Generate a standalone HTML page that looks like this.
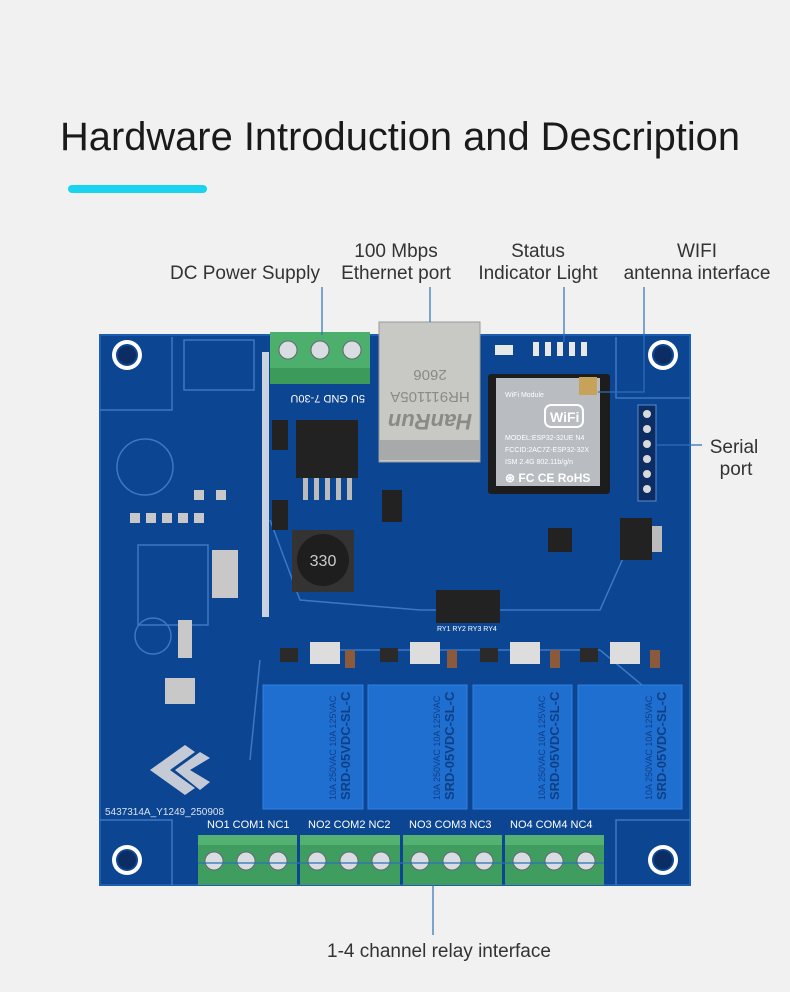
<!DOCTYPE html>
<html><head><meta charset="utf-8"><style>
html,body{margin:0;padding:0;background:#f1f1f1;}
svg{display:block}
</style></head><body>
<svg width="790" height="992" viewBox="0 0 790 992" xmlns="http://www.w3.org/2000/svg" font-family="Liberation Sans, sans-serif">
<rect width="790" height="992" fill="#f1f1f1"/>
<text x="60" y="150" font-size="40" fill="#1a1a1a" textLength="680" lengthAdjust="spacingAndGlyphs">Hardware Introduction and Description</text>
<rect x="68" y="185" width="139" height="8" rx="4" fill="#19d3ef"/>

<g font-size="19" fill="#333" text-anchor="middle">
<text x="245" y="279">DC Power Supply</text>
<text x="396" y="257">100 Mbps</text>
<text x="396" y="279">Ethernet port</text>
<text x="538" y="257">Status</text>
<text x="538" y="279">Indicator Light</text>
<text x="697" y="257">WIFI</text>
<text x="697" y="279">antenna interface</text>
<text x="734" y="453">Serial</text>
<text x="736" y="475">port</text>
<text x="439" y="957">1-4 channel relay interface</text>
</g>

<!-- board -->
<rect x="100" y="335" width="590" height="550" fill="#0c4592"/>
<rect x="100" y="335" width="590" height="550" fill="none" stroke="#1c5fb0" stroke-width="2"/>
<g fill="none" stroke="#3b78c6" stroke-width="1.5">
<path d="M100 410 H172 V337"/><path d="M616 337 V398 H690"/>
<path d="M100 820 H172 V885"/><path d="M616 885 V820 H690"/>
<rect x="184" y="340" width="70" height="50"/>
<circle cx="145" cy="467" r="28"/>
<rect x="138" y="545" width="70" height="80"/>
<circle cx="153" cy="636" r="18"/>
<path d="M270 520 L300 600 L420 610 L600 610 L640 520 M320 650 L600 650 M260 660 L250 760 M600 650 L660 700"/>
</g>
<g fill="#ffffff">
<circle cx="127" cy="355" r="15"/><circle cx="663" cy="355" r="15"/>
<circle cx="127" cy="860" r="15"/><circle cx="663" cy="860" r="15"/>
</g>
<g fill="#0c4592">
<circle cx="127" cy="355" r="11"/><circle cx="663" cy="355" r="11"/>
<circle cx="127" cy="860" r="11"/><circle cx="663" cy="860" r="11"/>
</g>
<g fill="#0c2d63">
<circle cx="127" cy="355" r="9"/><circle cx="663" cy="355" r="9"/>
<circle cx="127" cy="860" r="9"/><circle cx="663" cy="860" r="9"/>
</g>
<rect x="262" y="352" width="7" height="265" fill="#c9d3df"/>
<rect x="270" y="332" width="100" height="52" fill="#3c9a5a"/>
<rect x="270" y="332" width="100" height="36" fill="#4caf6c"/>
<g fill="#d7dde0" stroke="#667" stroke-width="1"><circle cx="288" cy="350" r="9"/><circle cx="320" cy="350" r="9"/><circle cx="352" cy="350" r="9"/></g>
<text x="271" y="403" font-size="11" fill="#fff" transform="rotate(180 318 399)">5U GND 7-30U</text>
<rect x="379" y="322" width="101" height="140" fill="#c8c8c4" stroke="#999"/>
<rect x="379" y="440" width="101" height="20" fill="#a7a9aa"/>
<g fill="#8a8a86" font-size="15" text-anchor="middle">
<text x="430" y="380" transform="rotate(180 430 375)">2606</text>
<text x="430" y="402" transform="rotate(180 430 397)">HR911105A</text>
<text x="430" y="430" font-size="22" font-style="italic" font-weight="bold" transform="rotate(180 430 422)">HanRun</text>
</g>
<g fill="#e8e8e8"><rect x="533" y="342" width="6" height="14"/><rect x="545" y="342" width="6" height="14"/><rect x="557" y="342" width="6" height="14"/><rect x="569" y="342" width="6" height="14"/><rect x="581" y="342" width="6" height="14"/><rect x="495" y="345" width="18" height="10"/></g>
<rect x="488" y="374" width="122" height="120" rx="3" fill="#1d1d1d"/>
<rect x="496" y="378" width="104" height="108" fill="#b9bcc0"/>
<g fill="#fff" font-size="7"><text x="505" y="397">WiFi Module</text><text x="505" y="440">MODEL:ESP32-32UE N4</text><text x="505" y="452">FCCID:2AC7Z-ESP32-32X</text><text x="505" y="464">ISM 2.4G 802.11b/g/n</text><text x="505" y="482" font-size="12" font-weight="bold">⊛ FC CE RoHS</text></g>
<rect x="545" y="405" width="38" height="22" rx="6" fill="none" stroke="#fff" stroke-width="2"/><text x="550" y="422" font-size="14" fill="#fff" font-weight="bold">WiFi</text>
<rect x="579" y="377" width="18" height="18" fill="#c7a35a"/>
<rect x="638" y="405" width="18" height="96" fill="#0c2d63" stroke="#5a8ccf"/>
<g fill="#d9d9d9"><circle cx="647" cy="414" r="4"/><circle cx="647" cy="429" r="4"/><circle cx="647" cy="444" r="4"/><circle cx="647" cy="459" r="4"/><circle cx="647" cy="474" r="4"/><circle cx="647" cy="489" r="4"/></g>
<rect x="296" y="420" width="62" height="58" fill="#222"/>
<g fill="#bbb"><rect x="303" y="478" width="5" height="22"/><rect x="314" y="478" width="5" height="22"/><rect x="325" y="478" width="5" height="22"/><rect x="336" y="478" width="5" height="22"/><rect x="347" y="478" width="5" height="22"/></g>
<rect x="272" y="420" width="16" height="30" fill="#222"/><rect x="272" y="500" width="16" height="30" fill="#222"/>
<rect x="382" y="490" width="20" height="32" fill="#222"/>
<rect x="292" y="530" width="62" height="62" fill="#333"/>
<circle cx="323" cy="560" r="26" fill="#1e1e1e"/>
<text x="323" y="566" font-size="16" fill="#ccc" text-anchor="middle">330</text>
<rect x="548" y="528" width="24" height="24" fill="#222"/>
<rect x="620" y="518" width="32" height="42" fill="#222"/><rect x="652" y="526" width="10" height="26" fill="#bbb"/>
<g fill="#c8c8c8">
<rect x="130" y="513" width="10" height="10"/><rect x="146" y="513" width="10" height="10"/><rect x="162" y="513" width="10" height="10"/><rect x="178" y="513" width="10" height="10"/><rect x="194" y="513" width="10" height="10"/>
<rect x="194" y="490" width="10" height="10"/><rect x="216" y="490" width="10" height="10"/>
<rect x="212" y="550" width="26" height="48"/>
<rect x="178" y="620" width="14" height="38"/>
<rect x="165" y="678" width="30" height="26"/>
</g>
<rect x="436" y="590" width="64" height="33" fill="#222"/>
<text x="437" y="631" font-size="7" fill="#fff">RY1 RY2 RY3 RY4</text>
<g fill="#2a2a2a"><rect x="280" y="648" width="18" height="14"/><rect x="380" y="648" width="18" height="14"/><rect x="480" y="648" width="18" height="14"/><rect x="580" y="648" width="18" height="14"/></g>
<g fill="#ddd"><rect x="310" y="642" width="30" height="22"/><rect x="410" y="642" width="30" height="22"/><rect x="510" y="642" width="30" height="22"/><rect x="610" y="642" width="30" height="22"/></g>
<g fill="#8a5a3a"><rect x="345" y="650" width="10" height="18"/><rect x="447" y="650" width="10" height="18"/><rect x="550" y="650" width="10" height="18"/><rect x="650" y="650" width="10" height="18"/></g>
<path d="M150 770 L185 745 L195 752 L170 770 L195 788 L185 795 Z" fill="#c4cbd6"/>
<path d="M175 770 L200 752 L210 758 L190 770 L210 782 L200 790 Z" fill="#c4cbd6"/>
<text x="105" y="815" font-size="10" fill="#dbe3ee">5437314A_Y1249_250908</text>
<g fill="#1f6fd1" stroke="#2f80e0"><rect x="263" y="685" width="100" height="124"/><rect x="368" y="685" width="99" height="124"/><rect x="473" y="685" width="99" height="124"/><rect x="578" y="685" width="104" height="124"/></g>
<g fill="#0e3f85" font-size="13" font-weight="bold">
<text transform="translate(350 800) rotate(-90)">SRD-05VDC-SL-C</text>
<text transform="translate(454 800) rotate(-90)">SRD-05VDC-SL-C</text>
<text transform="translate(559 800) rotate(-90)">SRD-05VDC-SL-C</text>
<text transform="translate(666 800) rotate(-90)">SRD-05VDC-SL-C</text>
<g font-size="9" font-weight="normal">
<text transform="translate(336 800) rotate(-90)">10A 250VAC  10A 125VAC</text>
<text transform="translate(440 800) rotate(-90)">10A 250VAC  10A 125VAC</text>
<text transform="translate(545 800) rotate(-90)">10A 250VAC  10A 125VAC</text>
<text transform="translate(652 800) rotate(-90)">10A 250VAC  10A 125VAC</text>
</g></g>
<g font-size="11" fill="#fff"><text x="207" y="828">NO1 COM1 NC1</text><text x="308" y="828">NO2 COM2 NC2</text><text x="409" y="828">NO3 COM3 NC3</text><text x="510" y="828">NO4 COM4 NC4</text></g>
<g fill="#3f9e5f"><rect x="198" y="835" width="99" height="50"/><rect x="300" y="835" width="100" height="50"/><rect x="403" y="835" width="99" height="50"/><rect x="505" y="835" width="99" height="50"/></g>
<g fill="#53b272"><rect x="198" y="835" width="99" height="10"/><rect x="300" y="835" width="100" height="10"/><rect x="403" y="835" width="99" height="10"/><rect x="505" y="835" width="99" height="10"/></g>
<g fill="#d7dde0" stroke="#667">
<circle cx="214" cy="861" r="9"/><circle cx="246" cy="861" r="9"/><circle cx="278" cy="861" r="9"/>
<circle cx="317" cy="861" r="9"/><circle cx="349" cy="861" r="9"/><circle cx="381" cy="861" r="9"/>
<circle cx="420" cy="861" r="9"/><circle cx="452" cy="861" r="9"/><circle cx="484" cy="861" r="9"/>
<circle cx="522" cy="861" r="9"/><circle cx="554" cy="861" r="9"/><circle cx="586" cy="861" r="9"/>
</g>
<g stroke="#2e6fb8" stroke-width="1.2" fill="none">
<path d="M322 287 V335"/><path d="M430 287 V322"/><path d="M564 287 V342"/>
<path d="M644 287 V392 H598"/><path d="M656 445 H702"/><path d="M433 885 V935"/>
<path d="M198 863 H604"/>
</g>
</svg>
</body></html>
